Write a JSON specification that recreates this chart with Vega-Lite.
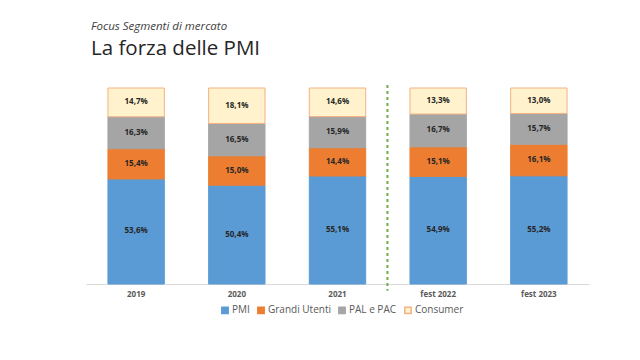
{
  "$schema": "https://vega.github.io/schema/vega-lite/v6.json",
  "width": 503,
  "height": 196,
  "autosize": {"type": "none"},
  "padding": {"left": 86, "top": 88, "right": 51, "bottom": 76},
  "background": "white",
  "config": {
    "view": {"stroke": null},
    "font": "Open Sans",
    "locale": {"number": {"decimal": ",", "thousands": ".", "grouping": [3], "currency": ["€", ""]}}
  },
  "title": {
    "text": "Focus Segmenti di mercato",
    "subtitle": "La forza delle PMI",
    "anchor": "start",
    "frame": "group",
    "font": "Open Sans",
    "fontSize": 11.5,
    "fontStyle": "italic",
    "fontWeight": "normal",
    "color": "#404040",
    "subtitleFont": "Open Sans",
    "subtitleFontSize": 20.5,
    "subtitleColor": "#262626",
    "subtitlePadding": 6,
    "offset": 25,
    "dx": 5
  },
  "datasets": {
    "main": [
      {"year": "2019", "segment": "PMI", "rank": 1, "value": 0.536},
      {"year": "2019", "segment": "Grandi Utenti", "rank": 2, "value": 0.154},
      {"year": "2019", "segment": "PAL e PAC", "rank": 3, "value": 0.163},
      {"year": "2019", "segment": "Consumer", "rank": 4, "value": 0.147},
      {"year": "2020", "segment": "PMI", "rank": 1, "value": 0.504},
      {"year": "2020", "segment": "Grandi Utenti", "rank": 2, "value": 0.150},
      {"year": "2020", "segment": "PAL e PAC", "rank": 3, "value": 0.165},
      {"year": "2020", "segment": "Consumer", "rank": 4, "value": 0.181},
      {"year": "2021", "segment": "PMI", "rank": 1, "value": 0.551},
      {"year": "2021", "segment": "Grandi Utenti", "rank": 2, "value": 0.144},
      {"year": "2021", "segment": "PAL e PAC", "rank": 3, "value": 0.159},
      {"year": "2021", "segment": "Consumer", "rank": 4, "value": 0.146},
      {"year": "fest 2022", "segment": "PMI", "rank": 1, "value": 0.549},
      {"year": "fest 2022", "segment": "Grandi Utenti", "rank": 2, "value": 0.151},
      {"year": "fest 2022", "segment": "PAL e PAC", "rank": 3, "value": 0.167},
      {"year": "fest 2022", "segment": "Consumer", "rank": 4, "value": 0.133},
      {"year": "fest 2023", "segment": "PMI", "rank": 1, "value": 0.552},
      {"year": "fest 2023", "segment": "Grandi Utenti", "rank": 2, "value": 0.161},
      {"year": "fest 2023", "segment": "PAL e PAC", "rank": 3, "value": 0.157},
      {"year": "fest 2023", "segment": "Consumer", "rank": 4, "value": 0.130}
    ],
    "divider": [{"year": "fest 2022", "top": 1.015, "bottom": -0.035}]
  },
  "encoding": {
    "x": {
      "field": "year",
      "type": "nominal",
      "sort": ["2019", "2020", "2021", "fest 2022", "fest 2023"],
      "scale": {"paddingInner": 0.44, "paddingOuter": 0.218},
      "axis": {
        "title": null,
        "labelAngle": 0,
        "ticks": false,
        "domainColor": "#D9D9D9",
        "labelFontSize": 8,
        "labelFontWeight": "bold",
        "labelColor": "#595959",
        "labelPadding": 6
      }
    }
  },
  "layer": [
    {
      "data": {"name": "main"},
      "mark": {"type": "bar", "strokeWidth": 1},
      "encoding": {
        "y": {"field": "value", "type": "quantitative", "stack": "zero", "scale": {"domain": [0, 1]}, "axis": null},
        "order": {"field": "rank", "type": "quantitative", "sort": "ascending"},
        "color": {
          "field": "segment",
          "type": "nominal",
          "sort": ["PMI", "Grandi Utenti", "PAL e PAC", "Consumer"],
          "scale": {"domain": ["PMI", "Grandi Utenti", "PAL e PAC", "Consumer"], "range": ["#5B9BD5", "#ED7D31", "#A5A5A5", "#FFF2CC"]},
          "legend": {
            "title": null,
            "orient": "none",
            "legendX": 134,
            "legendY": 217,
            "direction": "horizontal",
            "symbolType": "square",
            "symbolSize": 40,
            "labelFontSize": 10,
            "labelFontWeight": "normal",
            "labelColor": "#595959",
            "labelOffset": 2,
            "columnPadding": 4
          }
        },
        "stroke": {
          "field": "segment",
          "type": "nominal",
          "sort": ["PMI", "Grandi Utenti", "PAL e PAC", "Consumer"],
          "scale": {"domain": ["PMI", "Grandi Utenti", "PAL e PAC", "Consumer"], "range": ["#5B9BD5", "#ED7D31", "#A5A5A5", "#F4B183"]},
          "legend": null
        }
      }
    },
    {
      "data": {"name": "main"},
      "mark": {"type": "text", "fontSize": 8, "fontWeight": "bold", "color": "#262626"},
      "encoding": {
        "y": {"field": "value", "type": "quantitative", "stack": "zero", "bandPosition": 0.5},
        "detail": {"field": "segment", "type": "nominal"},
        "order": {"field": "rank", "type": "quantitative", "sort": "ascending"},
        "text": {"field": "value", "type": "quantitative", "format": ".1%"}
      }
    },
    {
      "data": {"name": "divider"},
      "mark": {"type": "rule", "color": "#70AD47", "strokeWidth": 2, "strokeDash": [3, 3], "clip": false},
      "encoding": {
        "x": {"field": "year", "type": "nominal", "sort": ["2019", "2020", "2021", "fest 2022", "fest 2023"], "bandPosition": -0.4},
        "y": {"field": "top", "type": "quantitative"},
        "y2": {"field": "bottom"}
      }
    }
  ]
}
